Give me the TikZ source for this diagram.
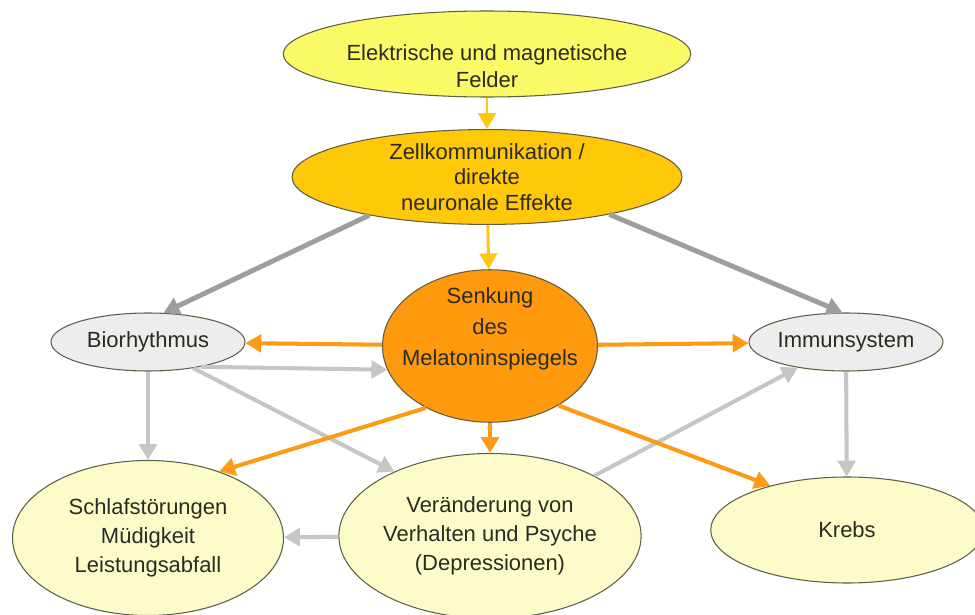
\documentclass[tikz,border=0pt]{standalone}
\usepackage{fontspec}
\setmainfont{Liberation Sans}
\usetikzlibrary{shapes.geometric, arrows.meta}
\definecolor{feldgelb}{HTML}{FAFA66}
\definecolor{zellgelb}{HTML}{FFC808}
\definecolor{senkorange}{HTML}{FF990D}
\definecolor{hellgrau}{HTML}{EDEDED}
\definecolor{blassgelb}{HTML}{FCFCCA}
\definecolor{randgrau}{HTML}{5E5E46}
\definecolor{schrift}{HTML}{2B2B22}
\definecolor{pfeilgelb}{HTML}{FFC614}
\definecolor{pfeilorange}{HTML}{FF9A14}
\definecolor{dunkelgrau}{HTML}{9E9E9E}
\definecolor{pfeilgrau}{HTML}{C6C6C6}

\begin{document}
\begin{tikzpicture}[>={Triangle[length=9pt, width=10pt]},
    ell/.style={ellipse, draw=randgrau, line width=0.6pt, inner sep=0pt, align=center,
        text=schrift, font=\fontsize{12.5}{16.5}\selectfont},
    beschriftung/.style={align=center, text=schrift, inner sep=0pt},
    gelbpfeil/.style={->, draw=pfeilgelb, line width=1.7pt},
    orangepfeil/.style={->, draw=pfeilorange, line width=2.3pt},
    dunkelpfeil/.style={->, draw=dunkelgrau, line width=2.8pt},
    grauerpfeil/.style={->, draw=pfeilgrau, line width=2.3pt}]
                    \fill[white] (0, 0) rectangle (19.5, -12.3);
                    \useasboundingbox (0, 0) rectangle (19.5, -12.3);

                    \node[ell, fill=feldgelb, minimum width=8.15cm, minimum height=1.72cm] (felder) at (9.74, -1.08) {};
                    \node[beschriftung, font=\fontsize{12.5}{15.5}\selectfont] (feldertext) at (9.74, -1.33) {Elektrische und magnetische\\Felder};
                    \node[ell, fill=zellgelb, minimum width=7.8cm, minimum height=1.68cm, font=\fontsize{12.5}{14.5}\selectfont] (zell) at (9.74, -3.54) {Zellkommunikation /\\direkte\\neuronale Effekte};
                    \node[ell, fill=senkorange, minimum width=4.3cm, minimum height=3.05cm] (senkung) at (9.8, -6.92) {};
                    \node[beschriftung, font=\fontsize{12.5}{17.5}\selectfont] (senkungtext) at (9.8, -6.58) {Senkung\\des\\Melatoninspiegels};

                    \node[ell, fill=hellgrau, minimum width=3.88cm, minimum height=1.16cm] (bio) at (2.96, -6.84) {Biorhythmus};
                    \node[ell, fill=hellgrau, minimum width=3.88cm, minimum height=1.16cm] (immun) at (16.92, -6.84) {Immunsystem};

                    \node[ell, fill=blassgelb, minimum width=5.42cm, minimum height=3.1cm] (schlaf) at (2.96, -10.76) {Schlafstörungen\\Müdigkeit\\Leistungsabfall};
                    \node[ell, fill=blassgelb, minimum width=5.14cm, minimum height=3.3cm] (verh) at (9.8, -10.72) {Veränderung von\\Verhalten und Psyche\\(Depressionen)};
                    \node[ell, fill=blassgelb, minimum width=5.45cm, minimum height=2.12cm] (krebs) at (16.94, -10.6) {Krebs};

                    \draw[gelbpfeil] (felder) -- (zell);
                    \draw[gelbpfeil] (zell) -- (senkung);
                    \draw[dunkelpfeil] (zell.198) -- (bio.62);
                    \draw[dunkelpfeil] (zell.343) -- (immun.97);

                    \draw[grauerpfeil] (bio.335) -- (senkung.193);
                    \draw[grauerpfeil] (bio.330) -- (verh.146);
                    \draw[grauerpfeil] (bio) -- (schlaf);
                    \draw[grauerpfeil] (verh.30) -- (immun.208);
                    \draw[grauerpfeil] (immun) -- (krebs);
                    \draw[grauerpfeil] (verh) -- (schlaf);

                    \draw[orangepfeil] (senkung) -- (bio);
                    \draw[orangepfeil] (senkung) -- (immun);
                    \draw[orangepfeil] (senkung.224) -- (schlaf.43);
                    \draw[orangepfeil] (senkung) -- (verh);
                    \draw[orangepfeil] (senkung.319) -- (krebs.150);
                \end{tikzpicture}
\end{document}
